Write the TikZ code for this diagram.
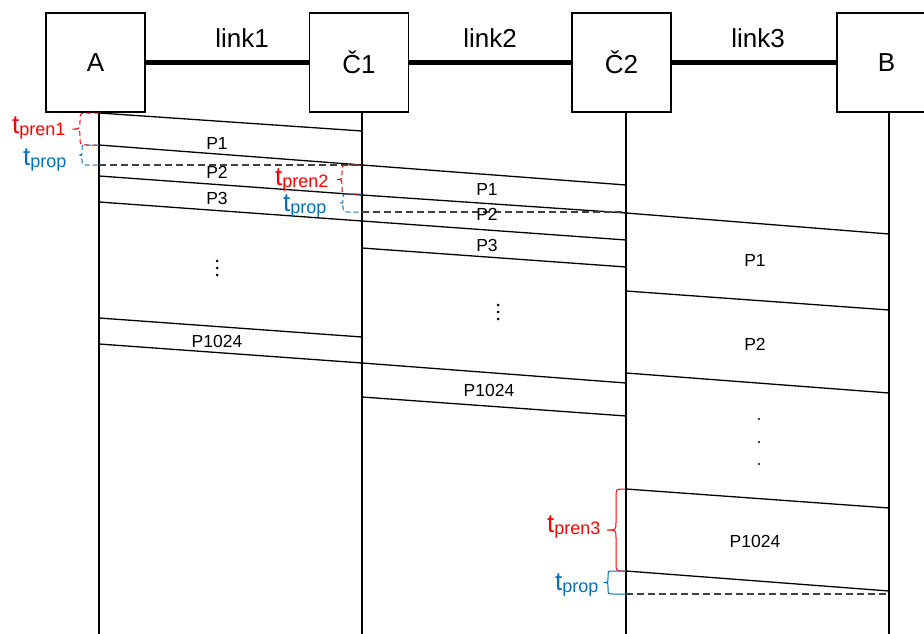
\documentclass[tikz,border=0pt]{standalone}
\usepackage{fontspec}
\setmainfont{Liberation Sans}
\usetikzlibrary{positioning}
\definecolor{prenred}{RGB}{255,0,0}
\definecolor{propblue}{RGB}{0,112,192}
% curly brace left of a line: style, x, top, bottom, body, tip, curl
\newcommand{\tbrace}[7]{%
  \draw[#1] (#2,#3) -- ({#2-#5+#7},#3) .. controls ({#2-#5},#3) .. ({#2-#5},{#3+#7})
    -- ({#2-#5},{(#3+#4)/2-#7}) .. controls ({#2-#5},{(#3+#4)/2}) .. ({#2-#6},{(#3+#4)/2})
    .. controls ({#2-#5},{(#3+#4)/2}) .. ({#2-#5},{(#3+#4)/2+#7})
    -- ({#2-#5},{#4-#7}) .. controls ({#2-#5},#4) .. ({#2-#5+#7},#4) -- (#2,#4);}
\newcommand{\tlab}[1]{{\fontsize{26}{30}\selectfont t}\raisebox{-2.5pt}{\fontsize{18}{20}\selectfont #1}}

\begin{document}
\begin{tikzpicture}[x=1pt,y=-1pt,
    station/.style={draw, line width=1.3pt, minimum width=99pt, minimum height=99pt, inner sep=0pt, font=\fontsize{26}{30}\selectfont},
    linklbl/.style={font=\fontsize{26}{30}\selectfont, inner sep=0pt},
    pkt/.style={line width=1.3pt},
    lbl/.style={font=\fontsize{17.5}{20}\selectfont, inner sep=0pt},
    gap/.style={dash pattern=on 7pt off 4pt, line width=1.1pt, black!75},
    tl/.style={anchor=base west, inner sep=0pt}]
        \useasboundingbox (0,0) rectangle (924,634);

        \node[station] (A) at (95.5,62.5) {A};
        \node[station] (C1) at (359,62.5) {Č1};
        \node[station] (C2) at (621.5,62.5) {Č2};
        \node[station] (B) at (886.5,62.5) {B};
        \draw[line width=5pt] (A) -- (C1);
        \draw[line width=5pt] (C1) -- (C2);
        \draw[line width=5pt] (C2) -- (B);
        \node[linklbl] (lk1) at (242,38) {link1};
        \node[linklbl] (lk2) at (490,38) {link2};
        \node[linklbl] (lk3) at (758,38) {link3};

        % time lines
        \foreach \x in {99,362,626,889}
            \draw[pkt] (\x,112.5) -- (\x,634);

        % packets
        \foreach \ya/\yb in {113/131,145/165,176/195,202/221,318/337,344/363}
            \draw[pkt] (99,\ya) -- (362,\yb);
        \foreach \ya/\yb in {165/185,195/213,221/240,248/267,363/383,397/416}
            \draw[pkt] (362,\ya) -- (626,\yb);
        \foreach \ya/\yb in {213/234,291/310,373/393,489/508,571/591}
            \draw[pkt] (626,\ya) -- (889,\yb);

        \draw[gap] (99,165) -- (362,165);
        \draw[gap] (362,212) -- (626,212);
        \draw[gap] (626,594) -- (889,594);

        \node[lbl] (pa1) at (217,143) {P1};
        \node[lbl] (pa2) at (217,172) {P2};
        \node[lbl] (pa3) at (217,198) {P3};
        \node[lbl] (pa4) at (217,341) {P1024};
        \node[lbl] (pb1) at (487,189) {P1};
        \node[lbl] (pb2) at (487,214) {P2};
        \node[lbl] (pb3) at (487,245) {P3};
        \node[lbl] (pb4) at (489,390) {P1024};
        \node[lbl] (pc1) at (755,260) {P1};
        \node[lbl] (pc2) at (755,344) {P2};
        \node[lbl] (pc4) at (755,541) {P1024};

        \foreach \y in {261,268,275}
            \fill (217,\y) circle (1.5);
        \foreach \y in {305,312,319}
            \fill (498,\y) circle (1.5);
        \foreach \y in {419,442,464}
            \fill (759,\y) circle (1.1);

        % braces
        \tbrace{prenred, line width=1pt, dash pattern=on 5pt off 3pt}{99}{113}{145}{19}{27}{8}
        \tbrace{propblue, line width=1pt, dash pattern=on 5pt off 3pt}{99}{145}{165}{17}{19}{5}
        \tbrace{prenred, line width=1pt, dash pattern=on 5pt off 3pt}{362}{165}{194}{20}{25}{7}
        \tbrace{propblue, line width=1pt, dash pattern=on 5pt off 3pt}{362}{194}{212}{19}{21}{4.5}
        \tbrace{prenred, line width=1pt}{626}{489}{571}{10}{19}{8}
        \tbrace{propblue, line width=1pt}{626}{571}{594}{18}{21}{5}

        \node[tl, prenred] (tr1) at (12,133) {\tlab{pren1}};
        \node[tl, propblue] (tp1) at (23,165) {\tlab{prop}};
        \node[tl, prenred] (tr2) at (275,185) {\tlab{pren2}};
        \node[tl, propblue] (tp2) at (283,211) {\tlab{prop}};
        \node[tl, prenred] (tr3) at (547,532) {\tlab{pren3}};
        \node[tl, propblue] (tp3) at (555,590) {\tlab{prop}};
\end{tikzpicture}
\end{document}
